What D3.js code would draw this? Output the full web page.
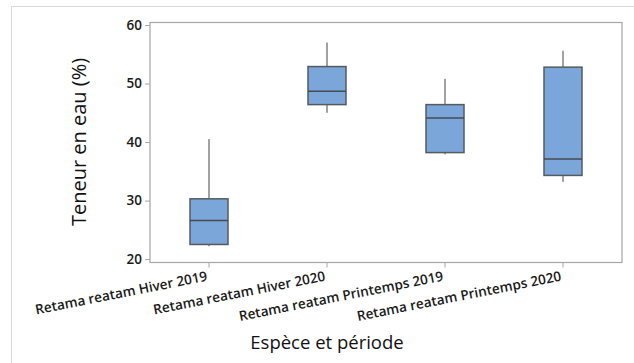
<!DOCTYPE html>
<html>
<head>
<meta charset="utf-8">
<script src="https://cdn.jsdelivr.net/npm/d3@7"></script>
<style>
  html, body { margin: 0; padding: 0; background: #fff; }
  svg { display: block; font-family: "Open Sans", "Noto Sans", sans-serif; }
</style>
</head>
<body>
<svg id="chart" width="634" height="363"></svg>
<script>
// Water content (%) by species and season: box-plot summaries
const categories = [
  "Retama reatam Hiver 2019",
  "Retama reatam Hiver 2020",
  "Retama reatam Printemps 2019",
  "Retama reatam Printemps 2020"
];
const whiskerLow  = [22.2, 45.0, 37.9, 33.2];
const q1          = [22.5, 46.4, 38.2, 34.3];
const median      = [26.6, 48.7, 44.1, 37.1];
const q3          = [30.3, 52.9, 46.4, 52.8];
const whiskerHigh = [40.5, 57.0, 50.8, 55.6];
const yTicks = [20, 30, 40, 50, 60];

const yTitle = "Teneur en eau (%)";
const xTitle = "Espèce et période";

const boxes = categories.map((c, i) => ({
  cat: c, lo: whiskerLow[i], q1: q1[i], med: median[i], q3: q3[i], hi: whiskerHigh[i]
}));

const svg = d3.select("#chart");
const W = 634, H = 363;
const plot = { left: 150, right: 622, top: 22.5, bottom: 262.5 };

// outer panel border
svg.append("rect")
  .attr("x", 11.5).attr("y", 6.5)
  .attr("width", W + 20).attr("height", H + 20)
  .attr("fill", "none").attr("stroke", "#d9d9d9").attr("stroke-width", 1);

const x = d3.scaleBand().domain(categories).range([plot.left, plot.right]).padding(0);
const y = d3.scaleLinear().domain([19.42, 60.43]).range([plot.bottom, plot.top]);

// plot frame
svg.append("rect")
  .attr("x", plot.left).attr("y", plot.top)
  .attr("width", plot.right - plot.left).attr("height", plot.bottom - plot.top)
  .attr("fill", "none").attr("stroke", "#a6a6a6").attr("stroke-width", 1.2);

// y axis
const yAxis = svg.append("g")
  .attr("transform", `translate(${plot.left},0)`)
  .call(d3.axisLeft(y).tickValues(yTicks).tickSize(5).tickPadding(3).tickFormat(d3.format("d")));
yAxis.select(".domain").remove();
yAxis.selectAll(".tick line").attr("stroke", "#a6a6a6");
yAxis.selectAll(".tick text")
  .attr("fill", "#1a1a1a").attr("font-size", 13.5).attr("font-weight", 600)
  .attr("font-family", "'Open Sans', sans-serif");

// x axis
const xAxis = svg.append("g")
  .attr("transform", `translate(0,${plot.bottom})`)
  .call(d3.axisBottom(x).tickSize(5).tickPadding(3));
xAxis.select(".domain").remove();
xAxis.selectAll(".tick line").attr("stroke", "#a6a6a6");
xAxis.selectAll(".tick text")
  .attr("fill", "#1a1a1a").attr("font-size", 13.6).attr("font-weight", 600)
  .attr("font-family", "'Open Sans', sans-serif")
  .attr("text-anchor", "end")
  .attr("dy", null).attr("y", null)
  .attr("transform", "translate(-1,18) rotate(-11.2)");

// boxes
const bw = 38;
const g = svg.append("g");
const item = g.selectAll("g.box").data(boxes).join("g").attr("class", "box")
  .attr("transform", d => `translate(${x(d.cat) + x.bandwidth() / 2},0)`);

item.append("line")
  .attr("x1", 0).attr("x2", 0)
  .attr("y1", d => y(d.hi)).attr("y2", d => y(d.q3))
  .attr("stroke", "#444").attr("stroke-width", 1);
item.append("line")
  .attr("x1", 0).attr("x2", 0)
  .attr("y1", d => y(d.q1)).attr("y2", d => y(d.lo))
  .attr("stroke", "#444").attr("stroke-width", 1);
item.append("rect")
  .attr("x", -bw / 2).attr("width", bw)
  .attr("y", d => y(d.q3)).attr("height", d => y(d.q1) - y(d.q3))
  .attr("fill", "#7ba6d9").attr("stroke", "#555a60").attr("stroke-width", 1.5);
item.append("line")
  .attr("x1", -bw / 2).attr("x2", bw / 2)
  .attr("y1", d => y(d.med)).attr("y2", d => y(d.med))
  .attr("stroke", "#444a50").attr("stroke-width", 1.5);

// axis titles
svg.append("text")
  .attr("transform", `translate(86,142) rotate(-90)`)
  .attr("text-anchor", "middle")
  .attr("font-size", 20).attr("fill", "#111")
  .text(yTitle);
svg.append("text")
  .attr("x", 327).attr("y", 349)
  .attr("text-anchor", "middle")
  .attr("font-size", 18.5).attr("fill", "#111")
  .text(xTitle);
</script>
</body>
</html>
